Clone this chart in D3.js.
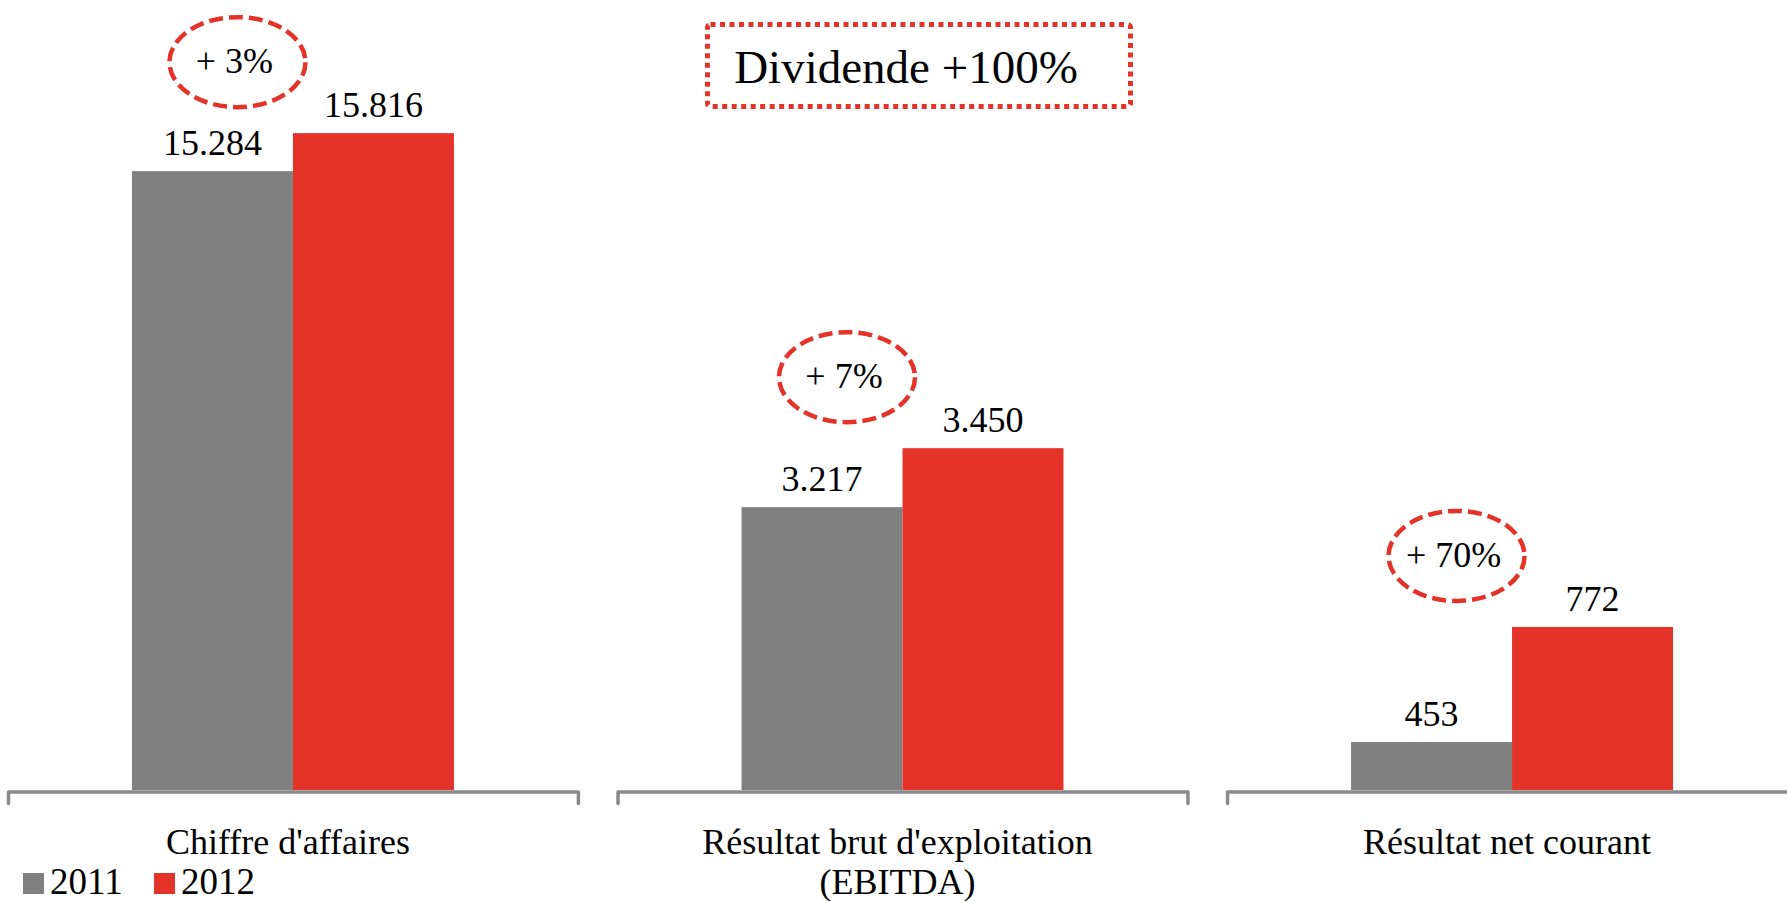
<!DOCTYPE html>
<html>
<head>
<meta charset="utf-8">
<script src="https://cdn.jsdelivr.net/npm/d3@7"></script>
<style>
  body { margin: 0; background: #fff; }
  svg { display: block; }
  text { fill: #000; }
</style>
</head>
<body>
<script>
const categories = ['Chiffre d\'affaires', 'Résultat brut d\'exploitation|(EBITDA)', 'Résultat net courant'];
const years = ['2011', '2012'];
const values2011 = [15284, 3217, 453];
const values2012 = [15816, 3450, 772];
const growthLabels = ['+ 3%', '+ 7%', '+ 70%'];
// each panel has its own value axis (not starting at zero)
const axisMin = [6620, 2100, 320];
const axisMax = [17680, 5220, 2510];

const width = 1787;
const height = 901;
const baseY = 790;
const font = 'Liberation Serif, Times New Roman, DejaVu Serif, serif';
const colors = { '2011': '#808080', '2012': '#e4342a' };

const fr = d3.formatLocale({ decimal: ',', thousands: '.', grouping: [3], currency: ['', ' €'] });
const fmt = fr.format(',');

const svg = d3.select('body')
  .append('svg')
  .attr('width', width)
  .attr('height', height)
  .attr('font-family', font);

const x0 = d3.scaleBand()
  .domain(categories)
  .range([8, 1797])
  .paddingInner(0.065)
  .paddingOuter(0);

const x1 = d3.scaleBand()
  .domain(years)
  .range([0, x0.bandwidth()])
  .paddingInner(0)
  .paddingOuter(0.77);

const data = categories.map((c, i) => ({
  cat: c,
  i: i,
  vals: [values2011[i], values2012[i]],
  y: d3.scaleLinear().domain([axisMin[i], axisMax[i]]).range([baseY, 0])
}));

const panel = svg.selectAll('.panel').data(data)
  .enter()
  .append('g')
  .attr('class', 'panel')
  .attr('transform', d => `translate(${x0(d.cat)}, 0)`);

// bars
panel.selectAll('.bar')
  .data(d => years.map((yr, j) => ({ yr: yr, v: d.vals[j], y: d.y })))
  .enter()
  .append('rect')
  .attr('class', 'bar')
  .attr('x', d => x1(d.yr))
  .attr('width', x1.bandwidth())
  .attr('y', d => d.y(d.v))
  .attr('height', d => baseY - d.y(d.v))
  .attr('fill', d => colors[d.yr]);

// value labels
panel.selectAll('.val')
  .data(d => years.map((yr, j) => ({ yr: yr, v: d.vals[j], y: d.y })))
  .enter()
  .append('text')
  .attr('class', 'val')
  .attr('x', d => x1(d.yr) + x1.bandwidth() / 2)
  .attr('y', d => d.y(d.v) - 16)
  .style('text-anchor', 'middle')
  .style('font-size', '36px')
  .text(d => fmt(d.v));

// category axis: line with end ticks
panel.append('g')
  .attr('class', 'x axis')
  .attr('transform', `translate(0, ${baseY + 1.5})`)
  .call(d3.axisBottom(x1).tickValues([]).tickSizeOuter(12))
  .call(g => g.select('.domain')
    .attr('stroke', '#8a8a8a')
    .attr('stroke-width', 3.5)
    .attr('stroke-linejoin', 'round')
    .attr('stroke-linecap', 'round'));

// category labels
panel.append('text')
  .attr('x', x0.bandwidth() / 2 - 5)
  .attr('y', 854)
  .style('text-anchor', 'middle')
  .style('font-size', '36px')
  .selectAll('tspan')
  .data(d => d.cat.split('|'))
  .enter()
  .append('tspan')
  .attr('x', x0.bandwidth() / 2 - 5)
  .attr('dy', (d, k) => k === 0 ? 0 : 40)
  .text(d => d);

// growth ellipses
const growth = panel.append('g')
  .attr('transform', d => `translate(${x1('2011') + x1.bandwidth() / 2 + 25}, ${d.y(d.vals[1]) - 71})`);

growth.append('ellipse')
  .attr('rx', 68)
  .attr('ry', 45)
  .attr('fill', 'none')
  .attr('stroke', '#e4342a')
  .attr('stroke-width', 4.5)
  .attr('stroke-dasharray', '14,6');

growth.append('text')
  .attr('x', -3)
  .attr('y', 11)
  .style('text-anchor', 'middle')
  .style('font-size', '36px')
  .text(d => growthLabels[d.i]);

// dividend box
svg.append('rect')
  .attr('x', 707.5)
  .attr('y', 24.5)
  .attr('width', 423)
  .attr('height', 82)
  .attr('rx', 3)
  .attr('fill', 'none')
  .attr('stroke', '#e4342a')
  .attr('stroke-width', 5)
  .attr('stroke-dasharray', '5,4.5');

svg.append('text')
  .attr('x', 906)
  .attr('y', 83)
  .style('text-anchor', 'middle')
  .style('font-size', '47px')
  .text('Dividende +100%');

// legend
const legend = svg.selectAll('.legend').data(years)
  .enter()
  .append('g')
  .attr('class', 'legend')
  .attr('transform', (d, i) => `translate(${23 + i * 131}, 873)`);

legend.append('rect')
  .attr('width', 21)
  .attr('height', 21)
  .attr('fill', d => colors[d]);

legend.append('text')
  .attr('x', 27)
  .attr('y', 21)
  .style('font-size', '37px')
  .text(d => d);
</script>
</body>
</html>
